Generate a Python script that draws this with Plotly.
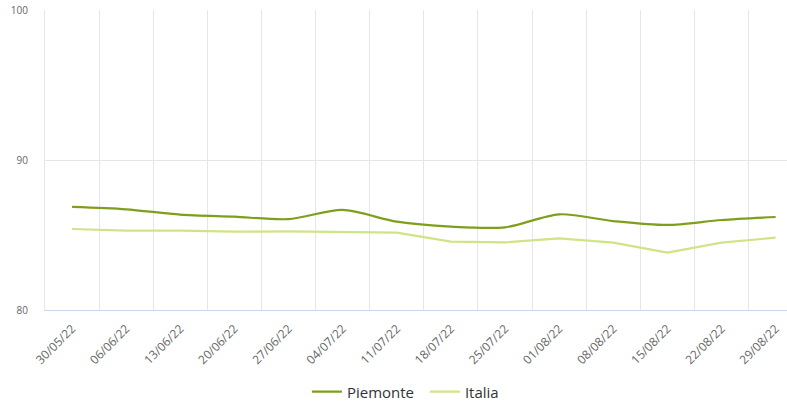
import plotly.graph_objects as go

weeks = ["30/05/22", "06/06/22", "13/06/22", "20/06/22", "27/06/22", "04/07/22", "11/07/22",
         "18/07/22", "25/07/22", "01/08/22", "08/08/22", "15/08/22", "22/08/22", "29/08/22"]
piemonte = [86.87, 86.71, 86.36, 86.22, 86.06, 86.67, 85.89, 85.56, 85.51, 86.38, 85.93, 85.67, 86.0, 86.2]
italia = [85.4, 85.29, 85.29, 85.22, 85.24, 85.2, 85.16, 84.56, 84.51, 84.78, 84.49, 83.82, 84.49, 84.82]

fig = go.Figure()
fig.add_trace(go.Scatter(
    x=weeks, y=piemonte, name="Piemonte", mode="lines",
    line=dict(color="#7f9f1c", width=2.2, shape="spline", smoothing=0.8),
))
fig.add_trace(go.Scatter(
    x=weeks, y=italia, name="Italia", mode="lines",
    line=dict(color="#cfe486", width=2.2),
))

fig.update_layout(
    width=787, height=401,
    margin=dict(l=45, r=0, t=10, b=91, autoexpand=False),
    paper_bgcolor="white", plot_bgcolor="white",
    font=dict(family="Open Sans", color="#666666"),
    showlegend=True,
    legend=dict(
        orientation="h", x=0.512, xanchor="center", y=-0.273, yanchor="middle",
        font=dict(size=15, color="#333333"), itemwidth=30,
        entrywidth=73, entrywidthmode="pixels",
    ),
    xaxis=dict(
        type="category", range=[-0.5, 13.21], automargin=False,
        tickson="boundaries", ticks="", showgrid=True, gridcolor="#e6e6e6", gridwidth=1,
        tickangle=-45, tickfont=dict(size=12, color="#666666"), ticklabelstandoff=6,
        showline=True, linecolor="#ccd6eb", linewidth=1,
        zeroline=False,
    ),
    yaxis=dict(
        range=[80, 100], tickvals=[80, 90, 100], automargin=False,
        showgrid=True, gridcolor="#e6e6e6", gridwidth=1,
        tickfont=dict(size=10, color="#666666"),
        ticklabelstandoff=14, zeroline=False,
        showline=True, linecolor="#e6e6e6", linewidth=1,
    ),
)

fig.write_html("out.html")
